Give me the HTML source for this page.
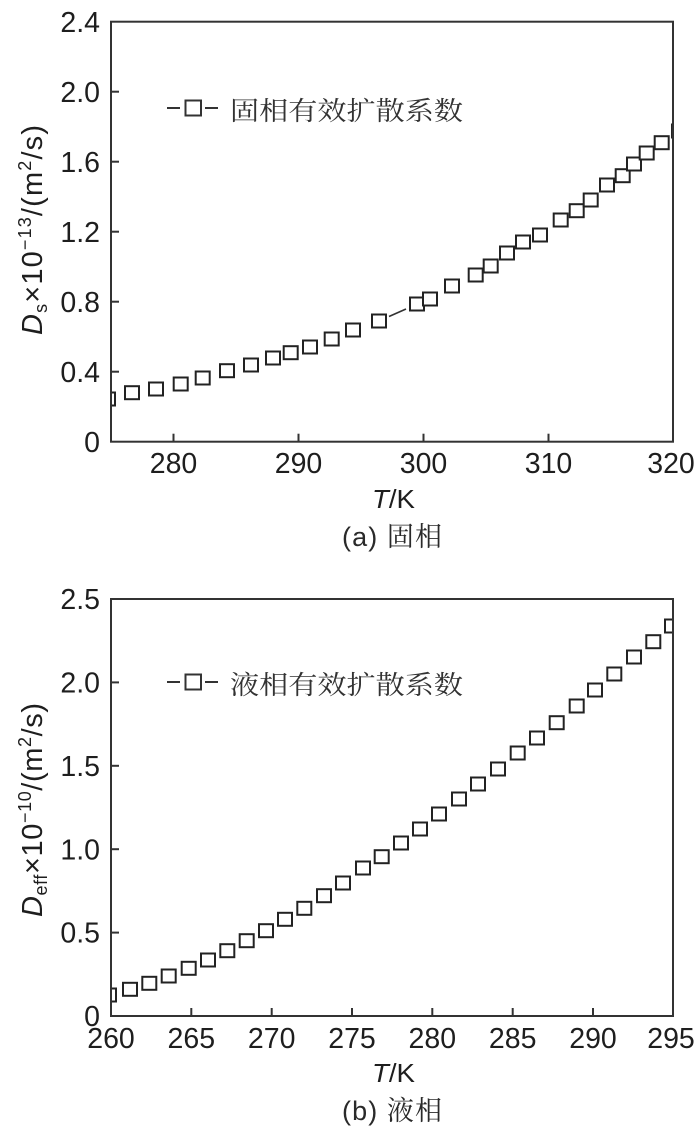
<!DOCTYPE html>
<html>
<head>
<meta charset="utf-8">
<style>
  html, body { margin: 0; padding: 0; background: #fff; }
  svg { display: block; }
  .tick { font-family: "Liberation Sans", sans-serif; font-size: 28.5px; fill: #1e1e1e; }
  .lab { font-family: "Liberation Sans", sans-serif; fill: #1e1e1e; }
  .leg { font-family: "Liberation Serif", "Noto Serif CJK SC", serif; font-size: 26px; fill: #333; }
  .cap { font-family: "Liberation Sans", "Noto Serif CJK SC", sans-serif; font-size: 27px; fill: #2a2a2a; }
</style>
</head>
<body>
<svg width="700" height="1146" viewBox="0 0 700 1146" xmlns="http://www.w3.org/2000/svg">
  <defs>
    <clipPath id="c1"><rect x="111" y="21.7" width="562" height="420"/></clipPath>
    <clipPath id="c2"><rect x="111" y="599" width="562" height="417"/></clipPath>
  </defs>
  <rect width="700" height="1146" fill="#fff"/>

  <!-- ================= TOP CHART ================= -->
  <g clip-path="url(#c1)" fill="#fff" stroke="#222" stroke-width="2">
    <line x1="389" y1="316.5" x2="406" y2="309" stroke="#333" stroke-width="1.6"/>
    <rect x="101" y="392.5" width="14" height="13"/>
    <rect x="125" y="386.2" width="14" height="13"/>
    <rect x="149" y="382.5" width="14" height="13"/>
    <rect x="173.7" y="377.5" width="14" height="13"/>
    <rect x="195.7" y="371.5" width="14" height="13"/>
    <rect x="220" y="364.2" width="14" height="13"/>
    <rect x="244" y="358.5" width="14" height="13"/>
    <rect x="266" y="351.5" width="14" height="13"/>
    <rect x="283.7" y="346.2" width="14" height="13"/>
    <rect x="303" y="340.5" width="14" height="13"/>
    <rect x="324.7" y="332.5" width="14" height="13"/>
    <rect x="346" y="323.5" width="14" height="13"/>
    <rect x="372" y="314.5" width="14" height="13"/>
    <rect x="410" y="297.5" width="14" height="13"/>
    <rect x="423" y="292.5" width="14" height="13"/>
    <rect x="445" y="279.5" width="14" height="13"/>
    <rect x="468.7" y="268.5" width="14" height="13"/>
    <rect x="483.7" y="259.5" width="14" height="13"/>
    <rect x="500" y="246.5" width="14" height="13"/>
    <rect x="516" y="235.5" width="14" height="13"/>
    <rect x="533" y="228.5" width="14" height="13"/>
    <rect x="553.7" y="213.5" width="14" height="13"/>
    <rect x="569.7" y="204.2" width="14" height="13"/>
    <rect x="583.7" y="193.5" width="14" height="13"/>
    <rect x="600" y="178.5" width="14" height="13"/>
    <rect x="615.7" y="169.2" width="14" height="13"/>
    <rect x="627" y="157.5" width="14" height="13"/>
    <rect x="639.7" y="146.5" width="14" height="13"/>
    <rect x="654.7" y="136.2" width="14" height="13"/>
    <rect x="672" y="124.5" width="14" height="13"/>
  </g>

  <!-- axes box -->
  <rect x="111" y="21.7" width="562" height="420" fill="none" stroke="#333" stroke-width="2"/>
  <g stroke="#333" stroke-width="2">
    <line x1="173.5" y1="441.7" x2="173.5" y2="433.7"/>
    <line x1="298.5" y1="441.7" x2="298.5" y2="433.7"/>
    <line x1="423.5" y1="441.7" x2="423.5" y2="433.7"/>
    <line x1="548.5" y1="441.7" x2="548.5" y2="433.7"/>
    <line x1="111" y1="91.7" x2="119" y2="91.7"/>
    <line x1="111" y1="161.7" x2="119" y2="161.7"/>
    <line x1="111" y1="231.7" x2="119" y2="231.7"/>
    <line x1="111" y1="301.7" x2="119" y2="301.7"/>
    <line x1="111" y1="371.7" x2="119" y2="371.7"/>
  </g>

  <!-- y tick labels -->
  <g class="tick" text-anchor="end">
    <text x="100" y="31.8">2.4</text>
    <text x="100" y="101.8">2.0</text>
    <text x="100" y="171.8">1.6</text>
    <text x="100" y="241.8">1.2</text>
    <text x="100" y="311.8">0.8</text>
    <text x="100" y="381.8">0.4</text>
    <text x="100" y="451.8">0</text>
  </g>
  <!-- x tick labels -->
  <g class="tick" text-anchor="middle">
    <text x="173.5" y="473">280</text>
    <text x="298.5" y="473">290</text>
    <text x="423.5" y="473">300</text>
    <text x="548.5" y="473">310</text>
    <text x="671" y="473">320</text>
  </g>

  <!-- legend -->
  <g stroke="#333" stroke-width="2">
    <line x1="167" y1="108" x2="180" y2="108"/>
    <line x1="205" y1="108" x2="218" y2="108"/>
    <rect x="185.5" y="100.5" width="15.5" height="15" fill="#fff"/>
  </g>
  <text class="leg" x="230" y="120" textLength="233" lengthAdjust="spacingAndGlyphs">固相有效扩散系数</text>

  <!-- y label -->
  <text class="lab" font-size="29" text-anchor="middle" transform="translate(42,230) rotate(-90)" textLength="210" lengthAdjust="spacing"><tspan font-style="italic">D</tspan><tspan dy="5" font-size="18">s</tspan><tspan dy="-5">×10</tspan><tspan dy="-11" font-size="18">−13</tspan><tspan dy="11">/(m</tspan><tspan dy="-11" font-size="18">2</tspan><tspan dy="11">/s)</tspan></text>

  <!-- x label -->
  <text class="lab" font-size="26" x="372" y="508" textLength="43" lengthAdjust="spacingAndGlyphs"><tspan font-style="italic">T</tspan>/K</text>
  <text class="cap" x="342" y="546" textLength="100" lengthAdjust="spacing">(a) 固相</text>

  <!-- ================= BOTTOM CHART ================= -->
  <g clip-path="url(#c2)" fill="#fff" stroke="#222" stroke-width="2">
    <rect x="102" y="988.5" width="14" height="13"/>
    <rect x="123" y="982.8" width="14" height="13"/>
    <rect x="142.3" y="976.8" width="14" height="13"/>
    <rect x="161.7" y="969.5" width="14" height="13"/>
    <rect x="181.7" y="961.8" width="14" height="13"/>
    <rect x="201" y="953.5" width="14" height="13"/>
    <rect x="220.3" y="944.2" width="14" height="13"/>
    <rect x="239.7" y="934.2" width="14" height="13"/>
    <rect x="259" y="924.2" width="14" height="13"/>
    <rect x="278" y="912.8" width="14" height="13"/>
    <rect x="297.3" y="901.8" width="14" height="13"/>
    <rect x="317" y="889.2" width="14" height="13"/>
    <rect x="336" y="876.5" width="14" height="13"/>
    <rect x="356" y="861.5" width="14" height="13"/>
    <rect x="374.7" y="850.2" width="14" height="13"/>
    <rect x="394" y="836.5" width="14" height="13"/>
    <rect x="413" y="822.5" width="14" height="13"/>
    <rect x="432" y="807.5" width="14" height="13"/>
    <rect x="452" y="792.5" width="14" height="13"/>
    <rect x="471" y="777.5" width="14" height="13"/>
    <rect x="491" y="762.5" width="14" height="13"/>
    <rect x="510.7" y="746.5" width="14" height="13"/>
    <rect x="530" y="731.5" width="14" height="13"/>
    <rect x="549.7" y="716.2" width="14" height="13"/>
    <rect x="569.7" y="699.5" width="14" height="13"/>
    <rect x="588" y="683.5" width="14" height="13"/>
    <rect x="607.3" y="667.5" width="14" height="13"/>
    <rect x="627" y="650.5" width="14" height="13"/>
    <rect x="646.3" y="635.2" width="14" height="13"/>
    <rect x="665" y="619.5" width="14" height="13"/>
  </g>

  <rect x="111" y="599" width="562" height="417" fill="none" stroke="#333" stroke-width="2"/>
  <g stroke="#333" stroke-width="2">
    <line x1="191.3" y1="1016" x2="191.3" y2="1008"/>
    <line x1="271.7" y1="1016" x2="271.7" y2="1008"/>
    <line x1="352" y1="1016" x2="352" y2="1008"/>
    <line x1="432.3" y1="1016" x2="432.3" y2="1008"/>
    <line x1="512.7" y1="1016" x2="512.7" y2="1008"/>
    <line x1="593" y1="1016" x2="593" y2="1008"/>
    <line x1="111" y1="682.4" x2="119" y2="682.4"/>
    <line x1="111" y1="765.8" x2="119" y2="765.8"/>
    <line x1="111" y1="849.2" x2="119" y2="849.2"/>
    <line x1="111" y1="932.6" x2="119" y2="932.6"/>
  </g>

  <g class="tick" text-anchor="end">
    <text x="100" y="609.2">2.5</text>
    <text x="100" y="692.5">2.0</text>
    <text x="100" y="775.9">1.5</text>
    <text x="100" y="859.3">1.0</text>
    <text x="100" y="942.7">0.5</text>
    <text x="100" y="1026">0</text>
  </g>
  <g class="tick" text-anchor="middle">
    <text x="111" y="1048">260</text>
    <text x="191.3" y="1048">265</text>
    <text x="271.7" y="1048">270</text>
    <text x="352" y="1048">275</text>
    <text x="432.3" y="1048">280</text>
    <text x="512.7" y="1048">285</text>
    <text x="593" y="1048">290</text>
    <text x="671" y="1048">295</text>
  </g>

  <g stroke="#333" stroke-width="2">
    <line x1="167" y1="682" x2="180" y2="682"/>
    <line x1="205" y1="682" x2="218" y2="682"/>
    <rect x="185.5" y="674.5" width="15.5" height="15" fill="#fff"/>
  </g>
  <text class="leg" x="230" y="694" textLength="233" lengthAdjust="spacingAndGlyphs">液相有效扩散系数</text>

  <text class="lab" font-size="29" text-anchor="middle" transform="translate(42,810) rotate(-90)" textLength="214" lengthAdjust="spacing"><tspan font-style="italic">D</tspan><tspan dy="5" font-size="18">eff</tspan><tspan dy="-5">×10</tspan><tspan dy="-11" font-size="18">−10</tspan><tspan dy="11">/(m</tspan><tspan dy="-11" font-size="18">2</tspan><tspan dy="11">/s)</tspan></text>

  <text class="lab" font-size="26" x="372" y="1082" textLength="43" lengthAdjust="spacingAndGlyphs"><tspan font-style="italic">T</tspan>/K</text>
  <text class="cap" x="342" y="1120" textLength="100" lengthAdjust="spacing">(b) 液相</text>
</svg>
</body>
</html>
